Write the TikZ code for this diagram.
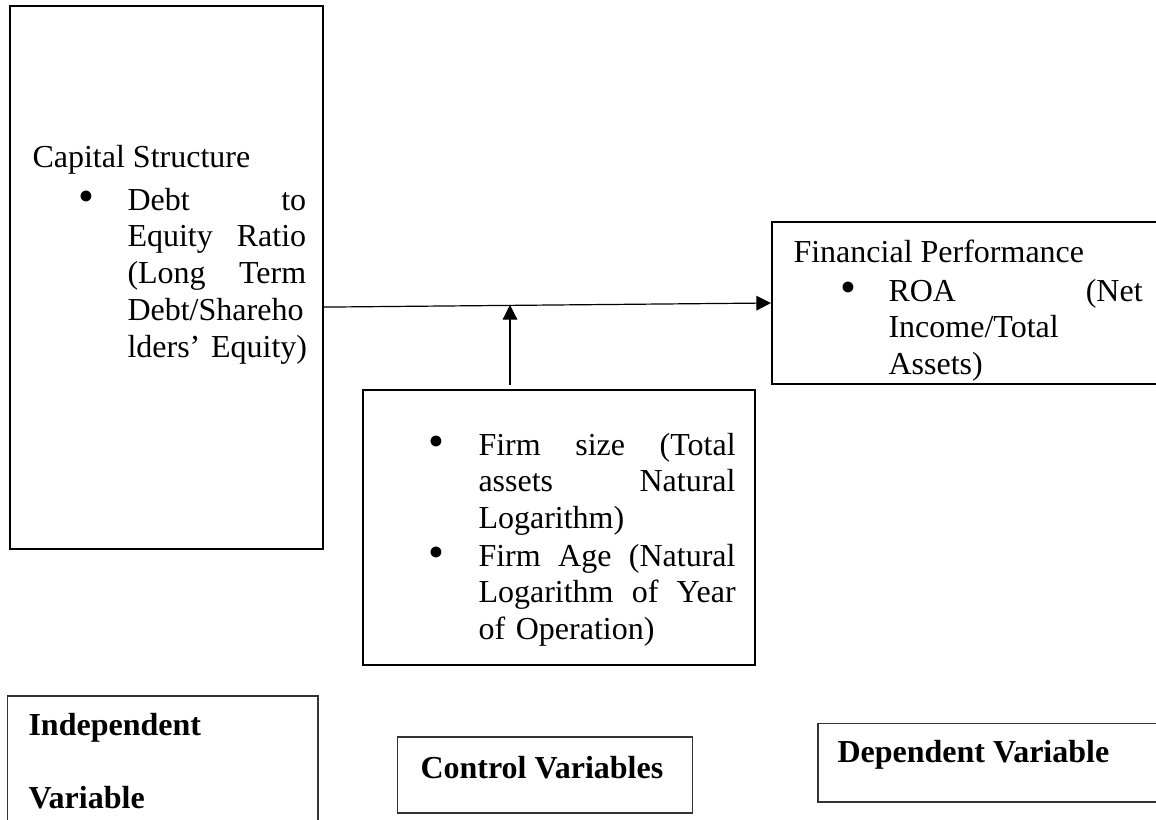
\documentclass[tikz,border=0pt]{standalone}
\usepackage{fontspec}
\setmainfont{Liberation Serif}
\usetikzlibrary{arrows.meta}

\begin{document}
\begin{tikzpicture}[
    x=0.375pt, y=-0.375pt,
    block/.style={rectangle, draw, line width=0.7pt, inner sep=0pt},
    tagbox/.style={rectangle, draw=black!80, line width=0.4pt, inner sep=0pt},
    txt/.style={anchor=base west, inner sep=0pt, font=\fontsize{12}{13.8}\selectfont},
    bold/.style={font=\fontsize{12}{13.8}\selectfont\bfseries},
    dot/.style={txt, font=\fontsize{17}{17}\selectfont, yshift=-0.7pt},
    itemtext/.style={txt, text width=#1, align=left},
    arrow/.style={line width=0.45pt, -{Triangle[length=5.5pt, width=5.5pt]}}
  ]
    \useasboundingbox (0,0) rectangle (1156,820);
    \clip (0,0) rectangle (1156,820);

    % Blocks
    \node[block, minimum width=117.4pt, minimum height=203.6pt] (capbox) at (166.5,277.5) {};
    \node[block, minimum width=149.3pt, minimum height=60.8pt] (perfbox) at (971,303) {};
    \node[block, minimum width=147pt, minimum height=103.1pt] (ctrlbox) at (559,527.5) {};

    % Capital structure
    \node[txt] (caphead) at (32,168) {Capital Structure};
    \node[dot] (capdot) at (78,210) {\textbullet};
    \node[itemtext=67pt] (capitem) at (127,210)
      {Debt \hfill to\\Equity \hfill Ratio\\(Long \hfill Term\\Debt/Shareho\\\mbox{lders' Equity)}};

    % Financial performance
    \node[txt] (perfhead) at (793,262) {Financial Performance};
    \node[dot] (perfdot) at (840,301) {\textbullet};
    \node[itemtext=95.3pt] (perfitem) at (888,301)
      {ROA \hfill (Net\\Income/Total\\Assets)};

    % Control variables
    \node[dot] (ctrldotA) at (428,455) {\textbullet};
    \node[itemtext=96.4pt] (ctrlitemA) at (478,455)
      {Firm \hfill size \hfill (Total\\assets \hfill Natural\\Logarithm)};
    \node[dot] (ctrldotB) at (428,566) {\textbullet};
    \node[itemtext=96.4pt] (ctrlitemB) at (478,566)
      {Firm \hfill Age \hfill (Natural\\Logarithm \hfill of \hfill Year\\of Operation)};

    % Connections
    \coordinate (modfoot) at (510,385);
    \coordinate (modtip) at (510,305);
    \draw[arrow] ([yshift=-11.1pt]capbox.east) -- (perfbox.west);
    \draw[arrow] (modfoot) -- (modtip);

    % Legend
    \node[tagbox, minimum width=116.6pt, minimum height=54pt] (indbox) at (162.5,768) {};
    \node[itemtext=110pt, bold] (indtext) at (28,735) {Independent\\[\baselineskip]Variable};
    \node[tagbox, minimum width=110.3pt, minimum height=28.5pt] (ctrlvarbox) at (545,775) {};
    \node[txt, bold] (ctrlvartext) at (420,778) {Control Variables};
    \node[tagbox, minimum width=132pt, minimum height=29.6pt] (depbox) at (994,762.5) {};
    \node[txt, bold] (deptext) at (837,762) {Dependent Variable};
  \end{tikzpicture}
\end{document}
